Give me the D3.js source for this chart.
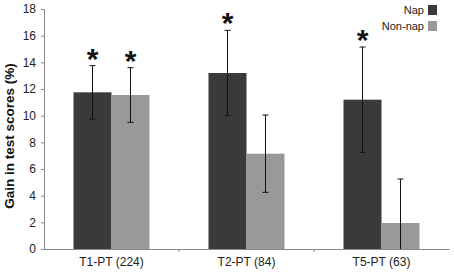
<!DOCTYPE html>
<html>
<head>
<meta charset="utf-8">
<script src="https://cdn.jsdelivr.net/npm/d3@7"></script>
<style>
  body { margin: 0; background: #fff; }
  text { font-family: Arial, "Liberation Sans", sans-serif; }
</style>
</head>
<body>
<script>
let categories = ['T1-PT (224)', 'T2-PT (84)', 'T5-PT (63)']
let series = ['Nap', 'Non-nap']
let napValues = [11.75, 13.2, 11.2]
let napErrors = [2.0, 3.2, 3.95]
let nonnapValues = [11.55, 7.15, 1.95]
let nonnapErrors = [2.05, 2.9, 3.3]
let napStars = [true, true, true]
let nonnapStars = [true, false, false]
let yTicks = [0, 2, 4, 6, 8, 10, 12, 14, 16, 18]

let width = 454
let height = 272
let padLeft = 44
let padRight = 449
let padTop = 9
let padBottom = 249
let colors = ['#3a3a3a', '#999999']

let svg = d3.select('body').append('svg')
  .attr('width', width)
  .attr('height', height)

let scaleX = d3.scaleBand()
  .domain(categories)
  .range([padLeft, padRight])

let scaleY = d3.scaleLinear()
  .domain([0, 18])
  .range([padBottom, padTop])

let barW = 38

let data = []
categories.forEach((c, i) => {
  data.push({cat: c, s: 0, value: napValues[i], err: napErrors[i], star: napStars[i]})
  data.push({cat: c, s: 1, value: nonnapValues[i], err: nonnapErrors[i], star: nonnapStars[i]})
})
let barX = d => scaleX(d.cat) + scaleX.bandwidth() / 2 - barW + d.s * barW

// bars
svg.selectAll('rect.bar').data(data)
  .enter().append('rect')
  .attr('class', 'bar')
  .attr('x', barX)
  .attr('width', barW)
  .attr('y', d => scaleY(d.value))
  .attr('height', d => padBottom - scaleY(d.value))
  .attr('fill', d => colors[d.s])

// y axis
let yAxis = svg.append('g')
  .attr('transform', 'translate(' + padLeft + ',0)')
  .call(d3.axisLeft(scaleY).tickValues(yTicks).tickSize(3).tickPadding(5))
yAxis.select('.domain').attr('stroke', '#8a8a8a')
yAxis.selectAll('.tick line').attr('stroke', '#8a8a8a')
yAxis.selectAll('text').attr('font-size', 12).attr('fill', '#222')

// x axis
let xAxis = svg.append('g')
  .attr('transform', 'translate(0,' + padBottom + ')')
  .call(d3.axisBottom(scaleX).tickSize(0).tickPadding(8).tickSizeOuter(0))
xAxis.select('.domain').attr('stroke', '#8a8a8a')
xAxis.selectAll('text').attr('font-size', 12).attr('fill', '#222')
// category separators
svg.selectAll('line.sep').data(categories.slice(1))
  .enter().append('line')
  .attr('x1', d => scaleX(d)).attr('x2', d => scaleX(d))
  .attr('y1', padBottom).attr('y2', padBottom + 3)
  .attr('stroke', '#8a8a8a')

// error bars
let errs = svg.selectAll('g.err').data(data).enter().append('g')
  .attr('transform', d => 'translate(' + (barX(d) + barW / 2) + ',0)')
errs.append('line')
  .attr('y1', d => scaleY(d.value + d.err))
  .attr('y2', d => scaleY(Math.max(0, d.value - d.err)))
  .attr('stroke', '#111')
errs.append('line')
  .attr('x1', -3).attr('x2', 3)
  .attr('y1', d => scaleY(d.value + d.err))
  .attr('y2', d => scaleY(d.value + d.err))
  .attr('stroke', '#111')
errs.filter(d => d.value - d.err > 0).append('line')
  .attr('x1', -3).attr('x2', 3)
  .attr('y1', d => scaleY(d.value - d.err))
  .attr('y2', d => scaleY(d.value - d.err))
  .attr('stroke', '#111')
errs.filter(d => d.star).append('text')
  .attr('y', d => scaleY(d.value + d.err) + 3)
  .attr('text-anchor', 'middle')
  .attr('font-size', 30)
  .attr('font-weight', 'bold')
  .attr('fill', '#111')
  .text('*')

// y label
svg.append('text')
  .attr('transform', 'translate(14,136) rotate(-90)')
  .attr('text-anchor', 'middle')
  .attr('font-size', 13.5)
  .attr('font-weight', 'bold')
  .attr('fill', '#111')
  .text('Gain in test scores (%)')

// legend
let legend = svg.selectAll('g.legend').data(series).enter().append('g')
  .attr('transform', (d, i) => 'translate(428,' + (5 + i * 16) + ')')
legend.append('rect')
  .attr('width', 9).attr('height', 10)
  .attr('fill', (d, i) => colors[i])
legend.append('text')
  .attr('x', -4).attr('y', 9)
  .attr('text-anchor', 'end')
  .attr('font-size', 11)
  .attr('fill', '#222')
  .text(d => d)
</script>
</body>
</html>
